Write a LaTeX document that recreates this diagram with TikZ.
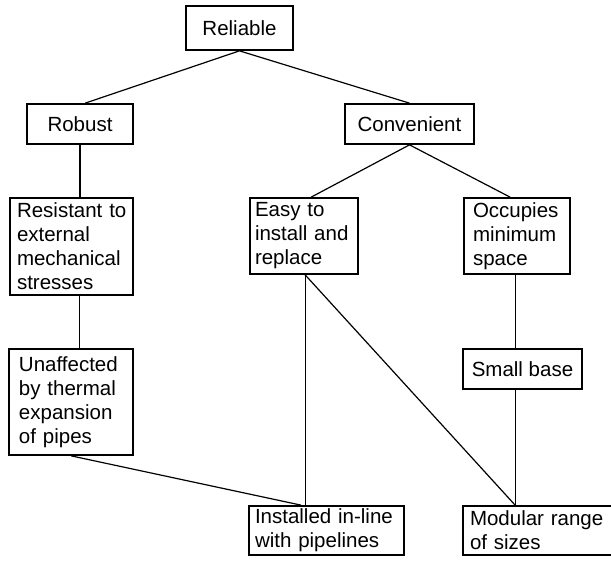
\documentclass[tikz,border=0pt]{standalone}
\usepackage{fontspec}
\setmainfont{Liberation Sans}
\usetikzlibrary{calc}
\begin{document}
\begin{tikzpicture}[x=1pt,y=-1pt,
  box/.style={draw, line width=1.7pt, inner ysep=0pt, align=left,
    font=\fontsize{20.5}{24}\selectfont},
  cbox/.style={box, align=center},
  link/.style={line width=1.2pt}]
\useasboundingbox (0,0) rectangle (611,566);
\clip (0,0) rectangle (611,566);

% top levels
\node[cbox, minimum width=107pt, minimum height=44pt] (rel) at (239.5,28) {Reliable};
\node[cbox, minimum width=106pt, minimum height=40pt] (rob) at (80,124) {Robust};
\node[cbox, minimum width=129pt, minimum height=40pt] (conv) at (409.5,124) {Convenient};

% second level
\node[box, text width=109pt, inner xsep=7pt, minimum height=97pt] (res) at (71.5,246.5)
  {Resistant~to\\external\\mechanical\\stresses};
\node[box, text width=98pt, inner xsep=5pt, minimum height=76pt] (easy) at (304,236)
  {Easy~to\\install~and\\replace};
\node[box, text width=88pt, inner xsep=9pt, minimum height=76pt] (occ) at (517,236)
  {Occupies\\minimum\\space};

% third level
\node[box, text width=104pt, inner xsep=10pt, minimum height=106pt] (unaff) at (71,402)
  {Unaffected\\by~thermal\\expansion\\of~pipes};
\node[cbox, minimum width=119pt, minimum height=40pt] (small) at (522.5,369) {Small~base};

% bottom level
\node[box, text width=143pt, inner xsep=6pt, minimum height=49pt] (inst) at (326.5,530.5)
  {Installed~in-line\\with~pipelines};
\node[box, text width=143pt, inner xsep=7pt, minimum height=49pt] (mod) at (541.5,530.5)
  {Modular~range\\of~sizes};

% connectors
\draw[link] (rel.south) -- ($(rob.north west)+(59,0)$);
\draw[link] (rel.south) -- (conv.north);
\draw[link] (rob.south) -- (rob.south |- res.north);
\draw[link] ($(res.south west)+(70,0)$) -- ($(unaff.north west)+(71,0)$);
\draw[link] (conv.south) -- ($(easy.north west)+(62,0)$);
\draw[link] (conv.south) -- ($(occ.north west)+(47,0)$);
\draw[link] ($(occ.south west)+(52,0)$) -- ($(small.north west)+(53,0)$);
\draw[link] ($(small.south west)+(53,0)$) -- ($(mod.north west)+(53,0)$);
\draw[link] ($(easy.south west)+(56,0)$) -- ($(inst.north west)+(57,0)$);
\draw[link] ($(easy.south west)+(56,0)$) -- ($(mod.north west)+(53,0)$);
\draw[link] ($(unaff.south west)+(63,0)$) -- ($(inst.north west)+(53,0)$);
\end{tikzpicture}
\end{document}
